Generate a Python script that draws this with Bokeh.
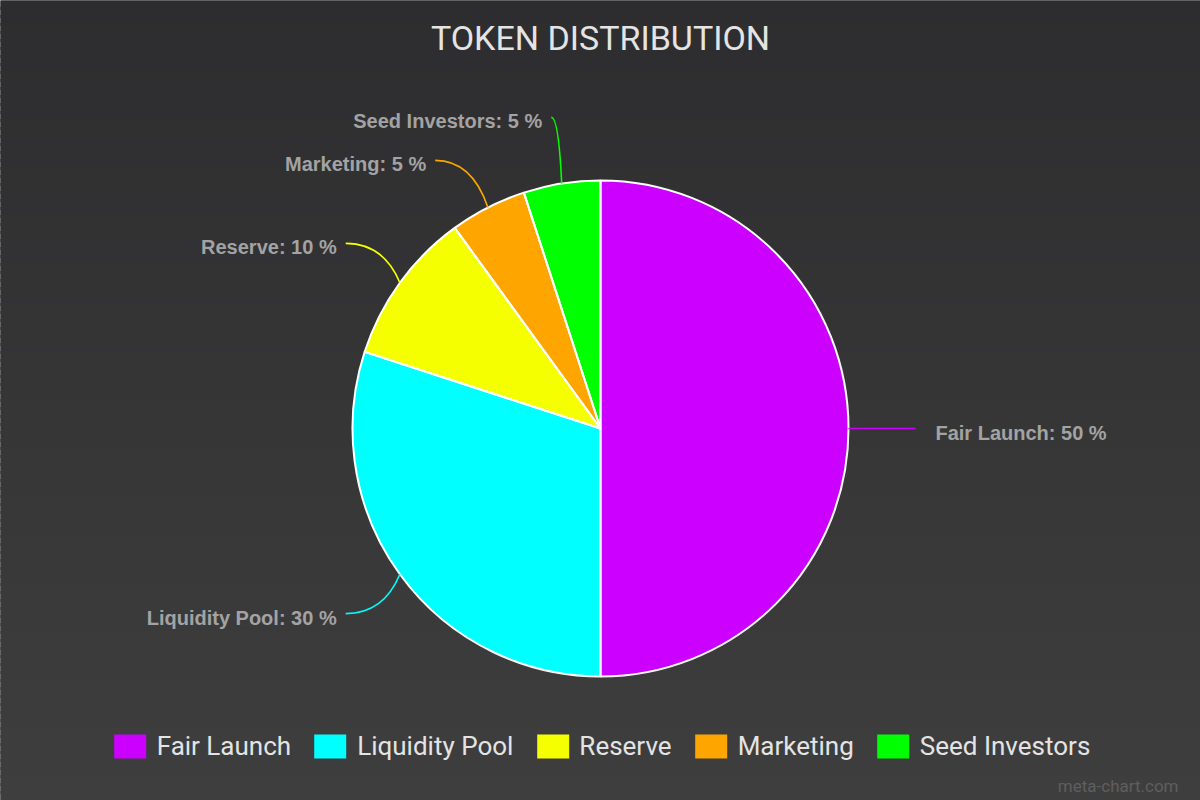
import numpy as np
from bokeh.plotting import figure
from bokeh.models import Range1d, Legend, LegendItem, ColumnDataSource
from bokeh.core.properties import value
from bokeh.embed import file_html
from bokeh.resources import INLINE

# ---- data ----
categories = ["Fair Launch", "Liquidity Pool", "Reserve", "Marketing", "Seed Investors"]
shares = [50, 30, 10, 5, 5]
colors = ["#cc00ff", "#00ffff", "#f5ff00", "#ffa500", "#00ff00"]
title_text = "TOKEN DISTRIBUTION"
watermark = "meta-chart.com"

W, H = 1200, 800
CX, CY, R = 600, 372, 248
CFONT = "Roboto"

p = figure(width=W, height=H, output_backend="svg", toolbar_location=None,
           x_range=Range1d(0, W), y_range=Range1d(0, H),
           x_axis_type=None, y_axis_type=None, min_border=0)
p.grid.visible = False
p.outline_line_color = None
p.background_fill_color = "#363638"
p.border_fill_color = "#363638"

# background gradient (vertical bands, overlapping to avoid seams)
nb = 100
top = np.array([45, 45, 47])
bot = np.array([62, 62, 62])
edges = np.linspace(H, 0, nb + 1)
bcols = []
for i in range(nb):
    t = i / (nb - 1)
    c = (top * (1 - t) + bot * t).round().astype(int)
    bcols.append("#%02x%02x%02x" % tuple(c))
p.quad(left=-50, right=W + 50, top=edges[:-1] + 1, bottom=edges[1:] - 1,
       fill_color=bcols, line_color=bcols, line_width=1)

vals = np.array(shares, dtype=float)
frac = vals / vals.sum()
cum = np.concatenate([[0], np.cumsum(frac)])
start = np.pi / 2 - 2 * np.pi * cum[:-1]
end = np.pi / 2 - 2 * np.pi * cum[1:]

src = ColumnDataSource(dict(cat=categories, start=start, end=end, color=colors))
wr = p.wedge(x=CX, y=CY, radius=R, start_angle="start", end_angle="end", direction="clock",
             fill_color="color", line_color=None, source=src)
p.wedge(x=CX, y=CY, radius=R, start_angle="start", end_angle="end", direction="clock",
        fill_color=None, line_color="white", line_width=2, source=src)

# leader lines and labels (radial end points, spread apart vertically to avoid overlap)
mid = (cum[:-1] + cum[1:]) / 2
theta = 2 * np.pi * mid
dx, dy = np.sin(theta), np.cos(theta)
x0, y0 = CX + R * dx, CY + R * dy
RL = 1.27 * R
x3, y3 = CX + RL * dx, CY + RL * dy
side = np.sign(np.round(dx, 6))
GAP = 43
for s in (-1, 1):
    idx = [i for i in range(len(shares)) if side[i] == s]
    idx.sort(key=lambda i: -y3[i])  # top first
    for a, b in zip(idx[:-1], idx[1:]):
        if y3[a] - y3[b] < GAP:
            y3[b] = y3[a] - GAP
            x3[b] = CX + s * np.sqrt(max(RL ** 2 - (y3[b] - CY) ** 2, 0))
qx, qy = x0 + 0.3 * (x3 - x0), y3
p.quadratic(x0=x0, y0=y0, x1=x3, y1=y3, cx=qx, cy=qy, line_color=colors, line_width=1.6)
labels = ["%s: %d %%" % (c, v) for c, v in zip(categories, shares)]
aligns = ["left" if s > 0 else "right" for s in side]
tx = x3 + np.where(side > 0, 20, -9)
p.text(x=tx, y=y3 - 4, text=labels, text_align=aligns, text_baseline="middle",
       text_font=value("Liberation Sans"), text_font_style="bold", text_font_size="20px",
       text_color="#a3a3a3")

# title and watermark
p.text(x=[W / 2], y=[H - 37], text=[title_text], text_align="center", text_baseline="middle",
       text_font=value(CFONT), text_font_size="34px", text_color="#e4e4e4")
p.text(x=[W - 22], y=[15], text=[watermark], text_align="right", text_baseline="middle",
       text_font=value(CFONT), text_font_size="17px", text_color="#5e5e5e")

items = [LegendItem(label=c, renderers=[wr], index=i) for i, c in enumerate(categories)]
legend = Legend(items=items, orientation="horizontal", location="bottom_center",
                glyph_width=40, glyph_height=30, label_standoff=7, spacing=19,
                padding=0, margin=39, background_fill_alpha=0, border_line_color=None,
                label_text_font=CFONT, label_text_font_size="26px",
                label_text_color="#e4e4e4", label_height=30)
p.add_layout(legend, "center")

open("out.html", "w").write(file_html(p, INLINE))
